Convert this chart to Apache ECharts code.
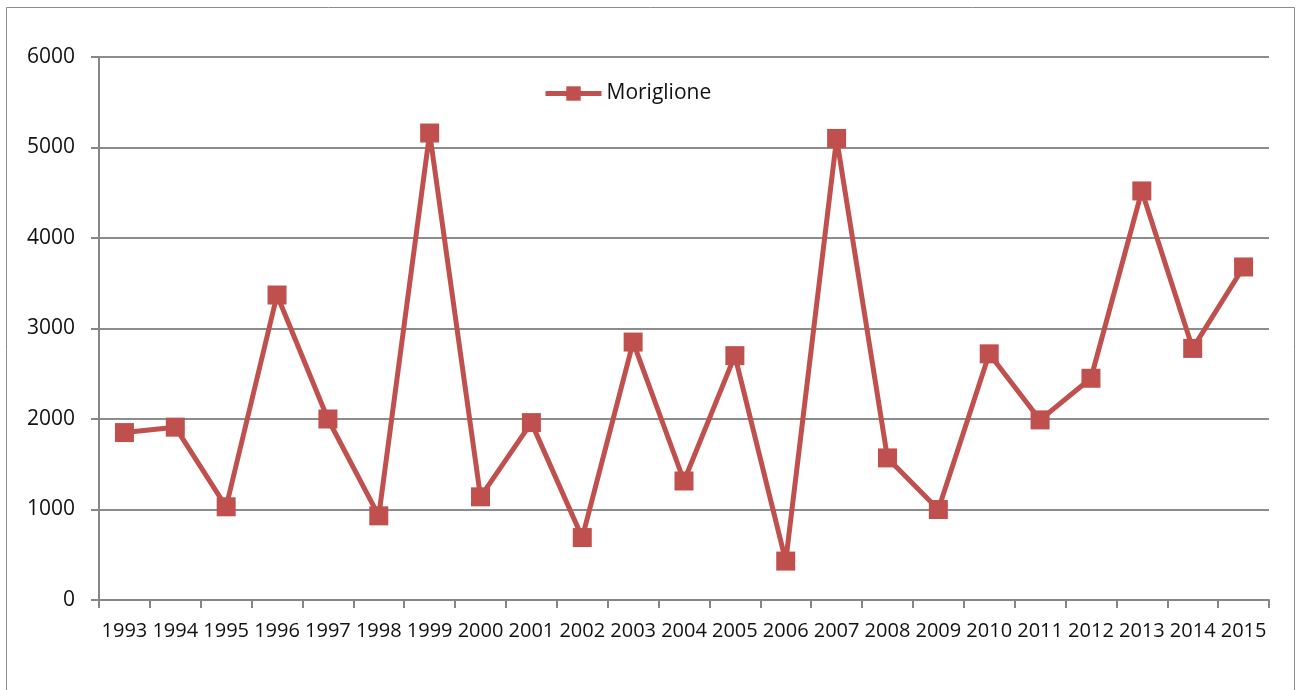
<!DOCTYPE html>
<html><head><meta charset="utf-8">
<script src="https://cdn.jsdelivr.net/npm/echarts@6/dist/echarts.min.js"></script>
<style>html,body{margin:0;padding:0;background:#fff}#c{width:1297px;height:690px}</style>
</head><body><div id="c"></div>
<script>
const years = ['1993','1994','1995','1996','1997','1998','1999','2000','2001','2002','2003','2004','2005','2006','2007','2008','2009','2010','2011','2012','2013','2014','2015'];
const moriglione = [1850,1910,1030,3370,2000,930,5160,1140,1960,690,2850,1315,2700,430,5100,1570,1000,2720,1990,2450,4520,2780,3680];
const yTicks = {min:0, max:6000, interval:1000};
const seriesName = 'Moriglione';

const chart = echarts.init(document.getElementById('c'), null, {renderer:'canvas'});
const font = '"Open Sans", sans-serif';
chart.setOption({
  animation:false,
  backgroundColor:'#fff',
  graphic:[{type:'rect', shape:{x:6.5,y:7.5,width:1288,height:700}, style:{fill:'none', stroke:'#8c8c8c', lineWidth:1}, silent:true}],
  grid:{left:99, right:28, top:57, bottom:90, containLabel:false},
  legend:{show:true, data:[seriesName], left:538, top:78, itemWidth:56, itemHeight:18, itemGap:3,
    lineStyle:{width:5},
    textStyle:{fontFamily:font, fontSize:21, color:'#111'}},
  xAxis:{type:'category', data:years, boundaryGap:true,
    axisLine:{lineStyle:{color:'#868686', width:2}},
    axisTick:{show:true, length:8, lineStyle:{color:'#868686', width:2}},
    axisLabel:{interval:0, margin:21, fontFamily:font, fontSize:20, color:'#111'},
    splitLine:{show:false}},
  yAxis:{type:'value', min:yTicks.min, max:yTicks.max, interval:yTicks.interval,
    axisLine:{show:true, lineStyle:{color:'#868686', width:2}},
    axisTick:{show:true, length:8, lineStyle:{color:'#868686', width:2}},
    axisLabel:{margin:24, fontFamily:font, fontSize:21, color:'#111', formatter:v=>String(v)},
    splitLine:{show:true, lineStyle:{color:'#8c8c8c', width:2}}},
  series:[{name:seriesName, type:'line', data:moriglione,
    symbol:'rect', symbolSize:19,
    lineStyle:{color:'#C0504D', width:5},
    itemStyle:{color:'#C0504D'}}]
});
</script></body></html>
